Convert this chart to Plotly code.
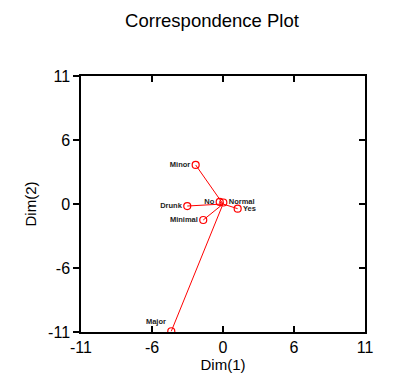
import plotly.graph_objects as go

labels = ["Minor", "Drunk", "Minimal", "Major", "No", "Normal", "Yes"]
dim1 = [-2.31, -3.02, -1.67, -4.37, -0.28, 0.03, 1.24]
dim2 = [3.66, -0.19, -1.50, -11.93, 0.19, 0.14, -0.44]
label_pos = ["middle left", "middle left", "middle left", "top left",
             "middle left", "middle right", "middle right"]
tick_vals = [-12, -6, 0, 6, 12]
tick_text = ["-11", "-6", "0", "6", "11"]

lx, ly = [], []
for x, y in zip(dim1, dim2):
    lx += [0, x, None]
    ly += [0, y, None]

fig = go.Figure()
fig.add_trace(go.Scatter(x=lx, y=ly, mode="lines",
                         line=dict(color="#ff0000", width=1),
                         hoverinfo="skip", showlegend=False))
fig.add_trace(go.Scatter(x=dim1, y=dim2, mode="markers+text",
                         text=["<b>%s</b>" % t for t in labels],
                         textposition=label_pos,
                         textfont=dict(family="Liberation Sans", size=7.5, color="#222222"),
                         marker=dict(symbol="circle-open", size=7,
                                     color="#ff0000", line=dict(width=1.2)),
                         showlegend=False))
fig.add_trace(go.Scatter(x=[0], y=[0], yaxis="y2", mode="markers",
                         marker=dict(opacity=0), hoverinfo="skip", showlegend=False))

axis_font = dict(family="Liberation Sans", size=16, color="black")
fig.update_layout(
    width=400, height=384,
    paper_bgcolor="white", plot_bgcolor="white",
    margin=dict(l=73, r=43, t=68, b=60),
    title=dict(text="Correspondence Plot", x=0.51, xanchor="center", y=0.985,
               yanchor="top",
               font=dict(family="Liberation Sans", size=18.5, color="black")),
    xaxis=dict(range=[-12, 12], tickvals=tick_vals, ticktext=tick_text,
               ticks="inside", ticklen=6, tickcolor="black", tickwidth=1.5,
               showline=True, linecolor="black", linewidth=1.5, mirror="ticks",
               showgrid=False, zeroline=False, tickfont=axis_font,
               title=dict(text="Dim(1)", standoff=4,
                          font=dict(family="Liberation Sans", size=15, color="black"))),
    yaxis=dict(range=[-12, 12], tickvals=tick_vals, ticktext=tick_text,
               ticks="outside", ticklen=6, tickcolor="black", tickwidth=1.5,
               showline=True, linecolor="black", linewidth=1.5, mirror=True,
               showgrid=False, zeroline=False, tickfont=axis_font,
               title=dict(text="Dim(2)", standoff=8,
                          font=dict(family="Liberation Sans", size=15, color="black"))),
    yaxis2=dict(range=[-12, 12], tickvals=tick_vals, overlaying="y", side="right",
                ticks="inside", ticklen=6, tickcolor="black", tickwidth=1.5,
                showticklabels=False, showline=False, showgrid=False, zeroline=False),
)

fig.write_html("out.html")
